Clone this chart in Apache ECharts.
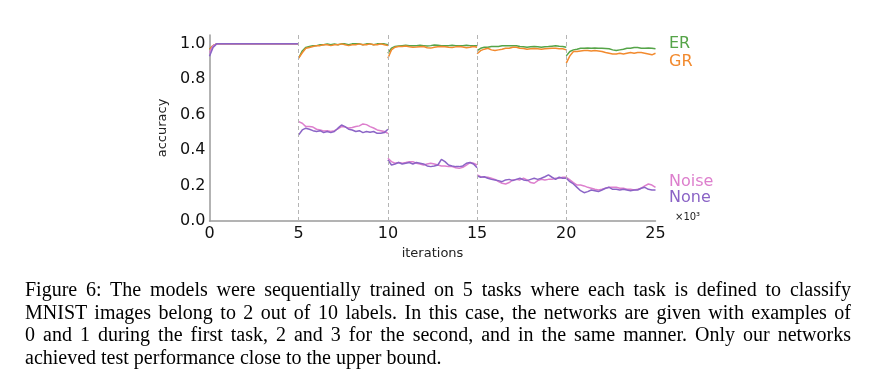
<!DOCTYPE html>
<html>
<head>
<meta charset="utf-8">
<script src="https://cdn.jsdelivr.net/npm/echarts@6/dist/echarts.min.js"></script>
<style>
  html, body { margin: 0; padding: 0; background: #fff; }
  #main-chart { position: absolute; left: 0; top: 0; width: 877px; height: 377px; }
  #caption {
    position: absolute; left: 25px; top: 278px; width: 826px;
    font-family: 'Liberation Serif', serif; font-size: 20px; line-height: 22.5px;
    color: #000;
  }
  #caption div { white-space: nowrap; }
  #caption .full { text-align: justify; text-align-last: justify; }
</style>
</head>
<body>
<div id="main-chart"></div>
<div id="caption">
  <div class="full">Figure 6: The models were sequentially trained on 5 tasks where each task is defined to classify</div>
  <div class="full">MNIST images belong to 2 out of 10 labels. In this case, the networks are given with examples of</div>
  <div class="full">0 and 1 during the first task, 2 and 3 for the second, and in the same manner. Only our networks</div>
  <div>achieved test performance close to the upper bound.</div>
</div>
<script>
// accuracy per task, sampled every 0.2 x10^3 iterations (26 points per task)
var taskLength = 5;
var sampleStep = 0.2;
var taskBoundaries = [5, 10, 15, 20];
var xTicks = [0, 5, 10, 15, 20, 25];

var erAcc = [
    [0.97, 0.99, 1, 1, 1, 1, 1, 1, 1, 1, 1, 1, 1, 1, 1, 1, 1, 1, 1, 1, 1, 1, 1, 1, 1, 1],
    [0.92, 0.96, 0.98, 0.985, 0.99, 0.99, 0.995, 0.995, 1.0, 0.995, 1.0, 0.995, 1.0, 1.0, 0.995, 1.0, 1.0, 1.0, 0.995, 1.0, 1.0, 0.995, 1.0, 1.0, 1.0, 0.995],
    [0.947, 0.976, 0.985, 0.988, 0.99, 0.992, 0.99, 0.989, 0.99, 0.992, 0.99, 0.988, 0.99, 0.994, 0.992, 0.99, 0.989, 0.99, 0.992, 0.99, 0.989, 0.99, 0.992, 0.99, 0.989, 0.99],
    [0.962, 0.975, 0.981, 0.981, 0.985, 0.985, 0.985, 0.989, 0.99, 0.989, 0.99, 0.989, 0.985, 0.983, 0.981, 0.984, 0.985, 0.983, 0.981, 0.984, 0.985, 0.987, 0.989, 0.986, 0.985, 0.981],
    [0.932, 0.957, 0.966, 0.97, 0.975, 0.975, 0.976, 0.975, 0.976, 0.975, 0.975, 0.974, 0.972, 0.966, 0.962, 0.966, 0.97, 0.975, 0.975, 0.979, 0.979, 0.975, 0.975, 0.976, 0.975, 0.972]
];
var grAcc = [
    [0.97, 0.99, 1, 1, 1, 1, 1, 1, 1, 1, 1, 1, 1, 1, 1, 1, 1, 1, 1, 1, 1, 1, 1, 1, 1, 1],
    [0.92, 0.95, 0.975, 0.98, 0.985, 0.99, 0.99, 0.995, 0.995, 0.99, 0.995, 0.995, 1.0, 0.995, 0.99, 0.995, 0.995, 1.0, 0.995, 0.995, 1.0, 0.995, 0.995, 1.0, 0.995, 0.99],
    [0.919, 0.966, 0.981, 0.985, 0.985, 0.988, 0.984, 0.981, 0.982, 0.984, 0.985, 0.978, 0.976, 0.981, 0.983, 0.985, 0.984, 0.981, 0.98, 0.983, 0.985, 0.982, 0.978, 0.981, 0.985, 0.981],
    [0.944, 0.962, 0.97, 0.975, 0.966, 0.962, 0.966, 0.97, 0.975, 0.975, 0.981, 0.981, 0.975, 0.974, 0.97, 0.972, 0.974, 0.972, 0.97, 0.972, 0.974, 0.975, 0.975, 0.973, 0.972, 0.966],
    [0.891, 0.932, 0.957, 0.957, 0.96, 0.962, 0.962, 0.96, 0.962, 0.96, 0.957, 0.951, 0.947, 0.943, 0.943, 0.947, 0.943, 0.947, 0.951, 0.947, 0.951, 0.951, 0.947, 0.943, 0.938, 0.947]
];
var noiseAcc = [
    [0.95, 0.99, 1, 1, 1, 1, 1, 1, 1, 1, 1, 1, 1, 1, 1, 1, 1, 1, 1, 1, 1, 1, 1, 1, 1, 1],
    [0.561, 0.552, 0.533, 0.533, 0.53, 0.518, 0.514, 0.508, 0.51, 0.505, 0.51, 0.52, 0.533, 0.53, 0.525, 0.528, 0.533, 0.537, 0.548, 0.544, 0.533, 0.525, 0.514, 0.51, 0.505, 0.495],
    [0.354, 0.335, 0.326, 0.33, 0.326, 0.33, 0.335, 0.335, 0.326, 0.322, 0.316, 0.322, 0.326, 0.322, 0.316, 0.311, 0.311, 0.307, 0.307, 0.301, 0.297, 0.303, 0.316, 0.33, 0.326, 0.316],
    [0.26, 0.25, 0.247, 0.247, 0.241, 0.235, 0.222, 0.213, 0.209, 0.217, 0.232, 0.235, 0.232, 0.241, 0.232, 0.217, 0.213, 0.228, 0.235, 0.232, 0.235, 0.235, 0.241, 0.241, 0.247, 0.247],
    [0.247, 0.232, 0.217, 0.203, 0.203, 0.198, 0.19, 0.185, 0.179, 0.175, 0.179, 0.185, 0.19, 0.19, 0.19, 0.185, 0.185, 0.179, 0.179, 0.175, 0.179, 0.185, 0.198, 0.209, 0.203, 0.19]
];
var noneAcc = [
    [0.93, 0.98, 1, 1, 1, 1, 1, 1, 1, 1, 1, 1, 1, 1, 1, 1, 1, 1, 1, 1, 1, 1, 1, 1, 1, 1],
    [0.486, 0.514, 0.524, 0.518, 0.51, 0.505, 0.51, 0.499, 0.505, 0.499, 0.505, 0.524, 0.542, 0.533, 0.518, 0.514, 0.505, 0.51, 0.499, 0.505, 0.501, 0.505, 0.495, 0.495, 0.499, 0.518],
    [0.345, 0.316, 0.322, 0.33, 0.322, 0.326, 0.33, 0.322, 0.33, 0.326, 0.322, 0.311, 0.307, 0.311, 0.316, 0.348, 0.335, 0.316, 0.311, 0.307, 0.307, 0.311, 0.326, 0.33, 0.322, 0.30],
    [0.255, 0.247, 0.25, 0.241, 0.235, 0.232, 0.228, 0.222, 0.232, 0.235, 0.228, 0.235, 0.241, 0.232, 0.228, 0.235, 0.241, 0.235, 0.241, 0.25, 0.26, 0.247, 0.235, 0.247, 0.241, 0.241],
    [0.241, 0.222, 0.209, 0.19, 0.171, 0.16, 0.166, 0.175, 0.171, 0.166, 0.175, 0.185, 0.19, 0.179, 0.179, 0.175, 0.179, 0.175, 0.171, 0.175, 0.175, 0.185, 0.19, 0.179, 0.175, 0.175]
];

var methods = [
    { name: 'ER', color: '#55a448', values: erAcc },
    { name: 'GR', color: '#f28a2e', values: grAcc },
    { name: 'Noise', color: '#dd7fcd', values: noiseAcc },
    { name: 'None', color: '#8b64c6', values: noneAcc }
];

var chart = echarts.init(document.getElementById('main-chart'));

// one line per task so the curves break at task boundaries
var series = [];
methods.forEach(function (m) {
    m.values.forEach(function (vals, t) {
        series.push({
            type: 'line',
            name: m.name,
            showSymbol: false,
            silent: true,
            lineStyle: { color: m.color, width: 1.5 },
            data: vals.map(function (v, k) {
                return [+(t * taskLength + k * sampleStep).toFixed(2), v];
            })
        });
    });
});

// dashed task boundaries
series.push({
    type: 'line',
    data: [],
    markLine: {
        silent: true,
        symbol: 'none',
        label: { show: false },
        lineStyle: { type: [4, 3], color: '#b5b5b5', width: 1 },
        data: taskBoundaries.map(function (x) { return { xAxis: x }; })
    }
});

var labelFont = 'DejaVu Sans';

var option = {
    animation: false,
    grid: { left: 209.5, right: 221.5, top: 35, bottom: 156 },
    xAxis: {
        type: 'value',
        min: 0, max: 25, interval: 5,
        name: 'iterations',
        nameLocation: 'middle',
        nameGap: 26,
        nameTextStyle: { fontFamily: labelFont, fontSize: 13, color: '#222' },
        axisLine: { lineStyle: { color: '#9a9a9a', width: 1.5 } },
        axisTick: { show: false },
        splitLine: { show: false },
        axisLabel: {
            fontFamily: labelFont, fontSize: 16, color: '#111', margin: 5,
            formatter: function (v) { return xTicks.indexOf(v) >= 0 ? String(v) : ''; }
        }
    },
    yAxis: {
        type: 'value',
        min: 0, max: 1.05, interval: 0.2,
        name: 'accuracy',
        nameLocation: 'middle',
        nameGap: 40,
        nameRotate: 90,
        nameTextStyle: { fontFamily: labelFont, fontSize: 13, color: '#222' },
        axisLine: { show: true, lineStyle: { color: '#9a9a9a', width: 1.5 } },
        axisTick: { show: false },
        splitLine: { show: false },
        axisLabel: {
            fontFamily: labelFont, fontSize: 16, color: '#111', margin: 4,
            formatter: function (v) {
                return Math.abs(v * 5 - Math.round(v * 5)) < 1e-6 ? v.toFixed(1) : '';
            }
        }
    },
    graphic: [
        { type: 'text', left: 669, top: 36, style: { text: 'ER', fill: '#55a448', font: '16px DejaVu Sans' } },
        { type: 'text', left: 669, top: 54, style: { text: 'GR', fill: '#f28a2e', font: '16px DejaVu Sans' } },
        { type: 'text', left: 669, top: 174, style: { text: 'Noise', fill: '#dd7fcd', font: '16px DejaVu Sans' } },
        { type: 'text', left: 669, top: 190, style: { text: 'None', fill: '#8b64c6', font: '16px DejaVu Sans' } },
        { type: 'text', left: 675, top: 212, style: { text: '×10³', fill: '#222', font: '10px DejaVu Sans' } }
    ],
    series: series
};

chart.setOption(option);
</script>
</body>
</html>
